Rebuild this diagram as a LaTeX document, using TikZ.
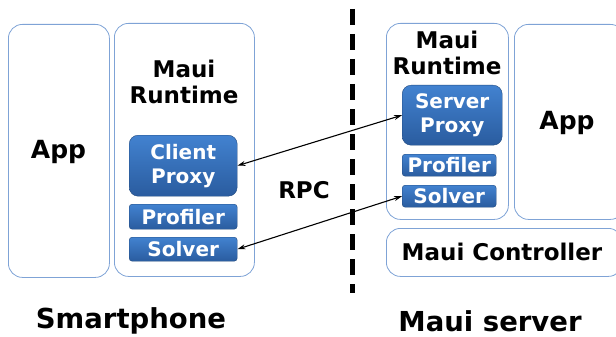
\documentclass[tikz,border=0pt]{standalone}
\usepackage{fontspec}
\setmainfont{DejaVu Sans}
\usetikzlibrary{arrows.meta}
\definecolor{frame}{HTML}{7FA3D6}
\definecolor{btop}{HTML}{4282D0}
\definecolor{bbot}{HTML}{2A5C9F}
\tikzset{
  outerbox/.style={draw=frame, line width=0.8pt, rounded corners=14pt, anchor=north west, inner sep=0pt},
  bluebox/.style={draw=bbot!80!black, line width=0.4pt, top color=btop, bottom color=bbot, anchor=north west, inner sep=0pt, text=white, font=\bfseries\fontsize{20}{24}\selectfont, align=center},
  lbl/.style={font=\bfseries\fontsize{23}{26}\selectfont, align=center, inner sep=0pt},
  link/.style={{Stealth[length=8pt,width=5pt]}-{Stealth[length=8pt,width=5pt]}, line width=1.1pt},
}
\begin{document}
\begin{tikzpicture}[x=1pt,y=-1pt]
\useasboundingbox (0,0) rectangle (616,337);
% left side
\node[outerbox, minimum width=101pt, minimum height=253pt] (lapp) at (8,24) {};
\node[lbl, font=\bfseries\fontsize{25}{27}\selectfont] (lapptxt) at (58.5,152) {App};
\node[outerbox, minimum width=140pt, minimum height=253pt] (lrt) at (114,23) {};
\node[lbl] (lrttxt) at (184,82) {Maui\\Runtime};
\node[bluebox, rounded corners=9pt, minimum width=108pt, minimum height=61pt] (cproxy) at (129,135) {Client\\Proxy};
\node[bluebox, rounded corners=3pt, minimum width=108pt, minimum height=25pt] (lprof) at (129,204) {Profiler};
\node[bluebox, rounded corners=3pt, minimum width=108pt, minimum height=24pt] (lsolv) at (129,237) {Solver};
% right side
\node[outerbox, minimum width=122pt, minimum height=196pt] (rrt) at (386,23) {};
\node[lbl] (rrttxt) at (447,53) {Maui\\Runtime};
\node[bluebox, rounded corners=9pt, minimum width=100pt, minimum height=60pt] (sproxy) at (402,85) {Server\\Proxy};
\node[bluebox, rounded corners=3pt, minimum width=94pt, minimum height=22pt] (rprof) at (402,154) {Profiler};
\node[bluebox, rounded corners=3pt, minimum width=94pt, minimum height=22pt] (rsolv) at (402,185) {Solver};
\node[outerbox, minimum width=110pt, minimum height=195pt] (rapp) at (514,24) {};
\node[lbl, font=\bfseries\fontsize{25}{27}\selectfont] (rapptxt) at (567,123) {App};
\node[outerbox, minimum width=236pt, minimum height=48pt] (ctrl) at (386,228) {};
\node[lbl] (ctrltxt) at (502,252) {Maui Controller};
% divider
\coordinate (dtop) at (352,9);
\coordinate (dbot) at (352,293);
\draw[line width=5pt, dash pattern=on 16pt off 9pt] (dtop) -- (dbot);
% links
\draw[link] (cproxy.east) -- (sproxy.west);
\draw[link] (lsolv.east) -- (rsolv.west);
\node[lbl] (rpc) at (304,190) {RPC};
% captions
\node[lbl, font=\bfseries\fontsize{27.5}{30}\selectfont] (smart) at (131,321) {Smartphone};
\node[lbl, font=\bfseries\fontsize{27.5}{30}\selectfont] (mserv) at (490,321) {Maui server};
\end{tikzpicture}
\end{document}
